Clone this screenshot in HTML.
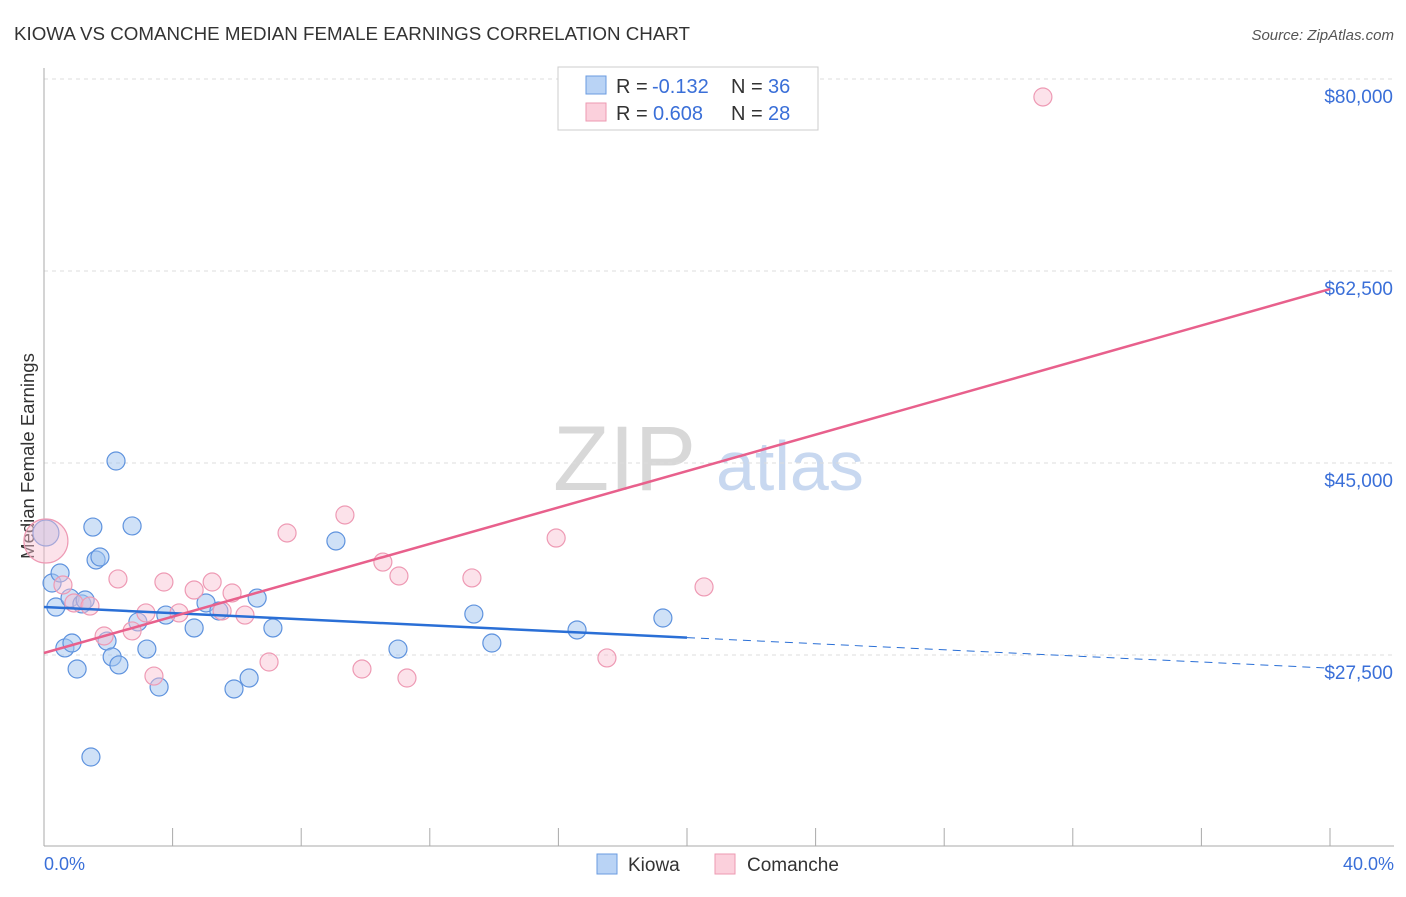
<!DOCTYPE html>
<html><head><meta charset="utf-8"><style>
body{margin:0;background:#fff;font-family:"Liberation Sans",sans-serif;}
svg text{font-family:"Liberation Sans",sans-serif;}
</style></head><body>
<svg id="chart" width="1406" height="892">
<text x="14" y="40" font-size="18" fill="#333" textLength="676" lengthAdjust="spacingAndGlyphs">KIOWA VS COMANCHE MEDIAN FEMALE EARNINGS CORRELATION CHART</text>
<text x="1394" y="40" font-size="15" fill="#555" font-style="italic" text-anchor="end">Source: ZipAtlas.com</text>
<g>
<text x="553" y="490" font-size="92" fill="#d8d8d8" font-family="Liberation Serif">ZIP</text>
<text x="716" y="490" font-size="70" fill="#c8d8f0">atlas</text>
</g>
<g id="grid"></g>
<line x1="44" y1="68" x2="44" y2="846" stroke="#aaa"/>
<line x1="44" y1="846" x2="1394" y2="846" stroke="#aaa"/>
<g id="xt"></g>
<text x="34" y="456" font-size="18.5" fill="#333" text-anchor="middle" transform="rotate(-90 34 456)">Median Female Earnings</text>
<text x="44" y="870" font-size="18" fill="#3a6fd8">0.0%</text>
<text x="1394" y="870" font-size="18" fill="#3a6fd8" text-anchor="end">40.0%</text>
<g id="pts"></g>
<g id="lines"></g>
<g>
<rect x="558" y="67" width="260" height="63" fill="#fff" stroke="#ccc"/>
<rect x="586" y="76" width="20" height="18" fill="#b9d3f5" stroke="#6a9be0"/>
<rect x="586" y="103" width="20" height="18" fill="#fbd0dc" stroke="#ec9ab2"/>
<text x="616" y="93" font-size="20" fill="#333">R =</text>
<text x="652" y="93" font-size="20" fill="#3a6fd8">-0.132</text>
<text x="731" y="93" font-size="20" fill="#333">N =</text>
<text x="768" y="93" font-size="20" fill="#3a6fd8">36</text>
<text x="616" y="120" font-size="20" fill="#333">R =</text>
<text x="653" y="120" font-size="20" fill="#3a6fd8">0.608</text>
<text x="731" y="120" font-size="20" fill="#333">N =</text>
<text x="768" y="120" font-size="20" fill="#3a6fd8">28</text>
</g>
<g>
<rect x="597" y="854" width="20" height="20" fill="#b9d3f5" stroke="#6a9be0"/>
<text x="628" y="871" font-size="19" fill="#333">Kiowa</text>
<rect x="715" y="854" width="20" height="20" fill="#fbd0dc" stroke="#ec9ab2"/>
<text x="747" y="871" font-size="19" fill="#333">Comanche</text>
</g>
</svg>
<script>
const yTicks=[80000,62500,45000,27500];
const yTickLabels=["$80,000","$62,500","$45,000","$27,500"];
const xTicks=[0,4,8,12,16,20,24,28,32,36,40];
const kiowaX=[0.06,0.25,0.5,0.37,0.81,1.18,0.65,0.87,1.03,1.52,1.62,1.74,2.24,1.96,2.12,2.33,2.74,2.92,3.2,3.58,3.79,4.67,5.04,5.44,5.91,6.38,6.63,7.12,9.08,11.01,13.37,13.93,16.58,19.25,1.46,1.28];
const kiowaY=[38620,34060,34970,31870,32690,32150,28140,28590,26220,39160,36160,36430,45180,28770,27320,26590,39260,30510,28040,24580,31140,29960,32240,31510,24400,25400,32690,29960,37890,28040,31230,28590,29780,30870,18200,32510];
const comancheX=[0.06,0.59,0.93,1.43,1.87,2.3,2.74,3.17,3.42,3.73,4.2,4.67,5.23,5.54,5.85,6.25,7.0,7.56,9.36,9.89,10.54,11.04,11.29,13.31,15.93,17.51,20.53,31.07];
const comancheY=[37890,33880,32240,31960,29230,34430,29690,31330,25580,34150,31330,33420,34150,31510,33150,31140,26860,38620,40260,26220,35970,34700,25400,34520,38160,27230,33700,78360];
const kiowaTrend=[31870,26300];
const comancheTrend=[27680,60850];
const kiowaSolidEnd=20;
const NS="http://www.w3.org/2000/svg";
const X=v=>44+v/40*1286;
const Y=v=>79+(80000-v)*0.010971;
function mk(t,a,p){const e=document.createElementNS(NS,t);for(const k in a)e.setAttribute(k,a[k]);p.appendChild(e);return e;}
const grid=document.getElementById('grid');
yTicks.forEach((t,i)=>{
 const l=mk('line',{x1:44,x2:1394,y1:Y(t),y2:Y(t),stroke:'#ddd','stroke-dasharray':'4,4'},grid);
 
 
 const tx=mk('text',{x:1393,y:Y(t)+24,'font-size':19,fill:'#3a6fd8','text-anchor':'end'},grid);
 tx.textContent=yTickLabels[i];
 
 
});
const xt=document.getElementById('xt');
xTicks.forEach(t=>{
 const l=mk('line',{x1:X(t),x2:X(t),y1:828,y2:846,stroke:'#aaa'},xt);
 
 
});
const pts=document.getElementById('pts');
kiowaX.forEach((x,i)=>{
 const c=mk('circle',{cx:X(x),cy:Y(kiowaY[i]),r:i==0?13:9,fill:'rgba(160,196,240,0.5)',stroke:'#5f93de','stroke-width':1.2},pts);
 
 
});
comancheX.forEach((x,i)=>{
 const c=mk('circle',{cx:X(x),cy:Y(comancheY[i]),r:i==0?22:9,fill:'rgba(248,190,208,0.45)',stroke:'#ee9ab4','stroke-width':1.2},pts);
 
 
});
const lines=document.getElementById('lines');
const kv=x=>kiowaTrend[0]+(kiowaTrend[1]-kiowaTrend[0])*x/40;
let l1=mk('line',{x1:X(0),y1:Y(kv(0)),x2:X(kiowaSolidEnd),y2:Y(kv(kiowaSolidEnd)),stroke:'#2a6fd6','stroke-width':2.5},lines);


let l2=mk('line',{x1:X(kiowaSolidEnd),y1:Y(kv(kiowaSolidEnd)),x2:X(40),y2:Y(kv(40)),stroke:'#2a6fd6','stroke-width':1,'stroke-dasharray':'8,6'},lines);


let l3=mk('line',{x1:X(0),y1:Y(comancheTrend[0]),x2:X(40),y2:Y(comancheTrend[1]),stroke:'#e8608c','stroke-width':2.5},lines);


</script>
</body></html>
